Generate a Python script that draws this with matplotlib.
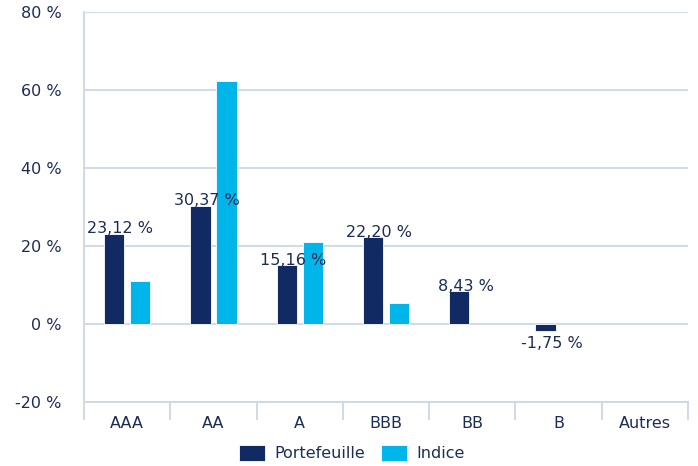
import matplotlib
matplotlib.use("Agg")
import matplotlib.pyplot as plt
import numpy as np

categories = ["AAA", "AA", "A", "BBB", "BB", "B", "Autres"]
portefeuille = [23.12, 30.37, 15.16, 22.20, 8.43, -1.75, 0.0]
indice = [11.0, 62.2, 20.9, 5.4, 0.0, 0.0, 0.0]
port_labels = ["23,12 %", "30,37 %", "15,16 %", "22,20 %", "8,43 %", "-1,75 %", None]
yticks = [-20, 0, 20, 40, 60, 80]

navy = "#112a64"
cyan = "#00b5ea"
grid = "#cbd8e6"
text_c = "#1c2d55"

plt.rcParams["font.family"] = ["DejaVu Sans"]
fs = 11.5

fig = plt.figure(figsize=(6.98, 4.66), dpi=100)
ax = fig.add_axes([84/698, 64/466, 604/698, 390/466])

x = np.arange(len(categories))
w = 0.235
off = 0.15
pb = ax.bar(x - off, portefeuille, w, color=navy, edgecolor="white", linewidth=0.6, zorder=3, label="Portefeuille")
ib = ax.bar(x + off, indice, w, color=cyan, edgecolor="white", linewidth=0.6, zorder=3, label="Indice")
for bars, vals in ((pb, portefeuille), (ib, indice)):
    for b, v in zip(bars, vals):
        if v == 0:
            b.set_visible(False)

for xi, v, lab in zip(x, portefeuille, port_labels):
    if lab is None:
        continue
    if v >= 0:
        ax.annotate(lab, (xi - off, v), xytext=(4.5, 3.5), textcoords="offset points",
                    ha="center", va="center", fontsize=fs, color=text_c, zorder=4)
    else:
        ax.annotate(lab, (xi - off, v), xytext=(4.5, -9), textcoords="offset points",
                    ha="center", va="center", fontsize=fs, color=text_c, zorder=4)

ax.set_xlim(-0.5, len(categories) - 0.5)
ax.set_ylim(-20, 80)
ax.set_yticks(yticks)
ax.set_yticklabels([f"{t} %" for t in yticks], fontsize=fs, color=text_c)
ax.yaxis.grid(True, color=grid, linewidth=1.3, zorder=0)
ax.tick_params(axis="y", length=0, pad=16)

ax.set_xticks(x)
ax.set_xticklabels(categories, fontsize=fs, color=text_c)
ax.set_xticks(np.arange(-0.5, len(categories) + 0.5, 1), minor=True)
ax.tick_params(axis="x", which="major", length=0, pad=10)
ax.tick_params(axis="x", which="minor", length=13, color=grid, width=1.3)

for s in ["top", "right"]:
    ax.spines[s].set_visible(False)
ax.spines["left"].set_color(grid)
ax.spines["left"].set_linewidth(1.3)
ax.spines["bottom"].set_color(grid)
ax.spines["bottom"].set_linewidth(1.3)

handles = [pb, ib]
leg = fig.legend(handles, ["Portefeuille", "Indice"], loc="center", bbox_to_anchor=(352/698, 1 - 453/466),
                 ncol=2, frameon=False, fontsize=fs, handlelength=1.6, handleheight=1.2,
                 columnspacing=1.0, handletextpad=0.6)
for t in leg.get_texts():
    t.set_color(text_c)

fig.savefig("out.png", dpi=100)
